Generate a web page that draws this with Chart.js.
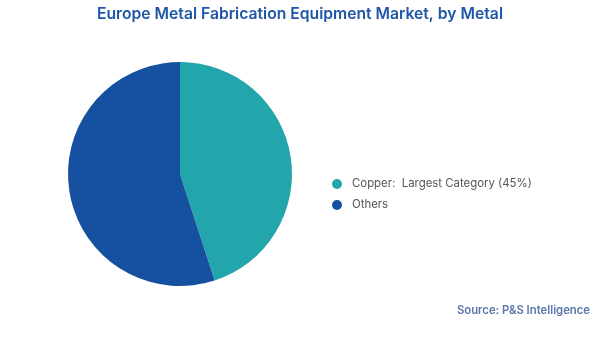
<!DOCTYPE html>
<html>
<head>
<meta charset="utf-8">
<script src="https://cdn.jsdelivr.net/npm/chart.js@4"></script>
<style>
  html, body { margin: 0; padding: 0; background: #ffffff; }
  #wrap { width: 600px; height: 337px; position: relative; }
</style>
</head>
<body>
<div id="wrap"><canvas id="metalChart" width="600" height="337"></canvas></div>
<script>
const chartTitle = 'Europe Metal Fabrication Equipment Market, by Metal';
const sourceText = 'Source: P&S Intelligence';
const categories = ['Copper', 'Others'];
const legendLabels = ['Copper:  Largest Category (45%)', 'Others'];
const shares = [45, 55];
const sliceColors = ['#22a6ab', '#1650a0'];

const fontFamily = "Inter, 'Noto Sans', sans-serif";

// title, legend and source line drawn on the canvas
const decorPlugin = {
    id: 'decor',
    afterDraw(chart) {
        const {ctx} = chart;
        ctx.save();
        ctx.textBaseline = 'middle';

        ctx.fillStyle = '#1f56a6';
        ctx.font = '600 15.7px ' + fontFamily;
        ctx.textAlign = 'center';
        ctx.fillText(chartTitle, 300, 14);

        ctx.textAlign = 'left';
        ctx.font = '11.4px ' + fontFamily;
        legendLabels.forEach(function(label, i) {
            const y = 184 + i * 21;
            ctx.fillStyle = sliceColors[i];
            ctx.beginPath();
            ctx.arc(337, y, 5, 0, Math.PI * 2);
            ctx.fill();
            ctx.fillStyle = '#555555';
            ctx.fillText(label, 352, y);
        });

        ctx.fillStyle = '#5b77a9';
        ctx.font = '600 11.3px ' + fontFamily;
        ctx.textAlign = 'right';
        ctx.fillText(sourceText, 590, 311);
        ctx.restore();
    }
};

new Chart(document.getElementById('metalChart').getContext('2d'), {
    type: 'pie',
    data: {
        labels: categories,
        datasets: [{
            data: shares,
            backgroundColor: sliceColors,
            borderWidth: 0,
            hoverOffset: 0
        }]
    },
    options: {
        responsive: false,
        animation: false,
        layout: {
            padding: { left: 68, top: 62, right: 308, bottom: 51 }
        },
        plugins: {
            legend: { display: false },
            title: { display: false },
            tooltip: { enabled: false }
        }
    },
    plugins: [decorPlugin]
});
</script>
</body>
</html>
